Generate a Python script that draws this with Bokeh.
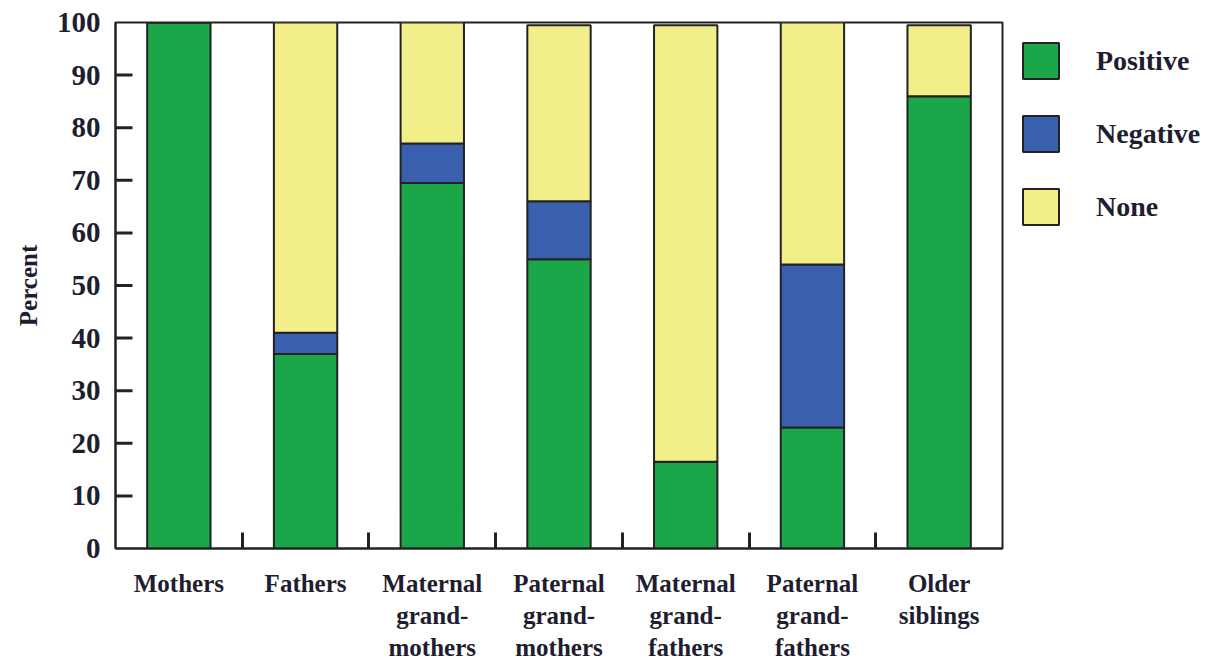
from bokeh.plotting import figure
from bokeh.models import Range1d, FixedTicker, Legend
from bokeh.embed import file_html
from bokeh.resources import INLINE

categories = ["Mothers", "Fathers", "Maternal\ngrand-\nmothers", "Paternal\ngrand-\nmothers",
              "Maternal\ngrand-\nfathers", "Paternal\ngrand-\nfathers", "Older\nsiblings"]
positive = [100, 37, 69.5, 55, 16.5, 23, 86]
negative = [0, 4, 7.5, 11, 0, 31, 0]
none_ = [0, 59, 23, 33.5, 83, 46, 13.5]
y_ticks = [0, 10, 20, 30, 40, 50, 60, 70, 80, 90, 100]

series = ["Positive", "Negative", "None"]
colors = ["#1ca64a", "#3a5fae", "#f2ee8a"]

FONT = "Liberation Serif"
TXT = "#1e1e30"
LINE = "#222222"

n = len(categories)
centers = [i + 0.5 for i in range(n)]
bounds = [i + 1 for i in range(n - 1)]
inner = y_ticks[1:-1]

FRAME_W = 887
TICK_PX = 17

p = figure(width=1206, height=667, output_backend="svg", toolbar_location=None,
           x_range=Range1d(0, n), y_range=Range1d(0, 100),
           frame_width=FRAME_W, frame_height=526,
           min_border_left=115, min_border_top=22, min_border_bottom=119, min_border_right=0)

data = dict(x=centers, Positive=positive, Negative=negative, None_=none_)
rs = p.vbar_stack(["Positive", "Negative", "None_"], x="x", width=0.5, source=data,
                  fill_color=colors, line_color=LINE, line_width=2)

# inward y tick marks drawn from the axis line into the frame
tick_len = TICK_PX * n / FRAME_W
p.segment(x0=[0.0] * len(inner), x1=[tick_len] * len(inner), y0=inner, y1=inner,
          line_color=LINE, line_width=3)

legend = Legend(items=[(s, [r]) for s, r in zip(series, rs)], location="top_left")
legend.border_line_color = None
legend.background_fill_alpha = 0
legend.margin = 16
legend.padding = 12
legend.glyph_width = 45
legend.glyph_height = 45
legend.spacing = 28
legend.label_standoff = 33
legend.label_text_font = FONT
legend.label_text_font_style = "bold"
legend.label_text_font_size = "28px"
legend.label_text_color = TXT
p.add_layout(legend, "right")

p.xgrid.visible = False
p.ygrid.visible = False
p.outline_line_color = LINE
p.outline_line_width = 2

xa = p.xaxis[0]
xa.ticker = FixedTicker(ticks=centers, minor_ticks=bounds)
xa.major_label_overrides = {c: lab for c, lab in zip(centers, categories)}
xa.major_tick_in = 0
xa.major_tick_out = 0
xa.minor_tick_in = 16
xa.minor_tick_out = 0
xa.minor_tick_line_width = 3
xa.minor_tick_line_color = LINE
xa.axis_line_width = 2
xa.axis_line_color = LINE
xa.major_label_standoff = 21
xa.major_label_text_font = FONT
xa.major_label_text_font_style = "bold"
xa.major_label_text_font_size = "25px"
xa.major_label_text_color = TXT

ya = p.yaxis[0]
ya.ticker = FixedTicker(ticks=y_ticks)
ya.major_tick_in = 0
ya.major_tick_out = 0
ya.minor_tick_line_color = None
ya.axis_line_width = 2
ya.axis_line_color = LINE
ya.major_label_standoff = 15
ya.major_label_text_font = FONT
ya.major_label_text_font_style = "bold"
ya.major_label_text_font_size = "29px"
ya.major_label_text_color = TXT
ya.axis_label = "Percent"
ya.axis_label_text_font = FONT
ya.axis_label_text_font_style = "bold"
ya.axis_label_text_font_size = "25px"
ya.axis_label_text_color = TXT
ya.axis_label_standoff = 12

open("out.html", "w").write(file_html(p, INLINE))
